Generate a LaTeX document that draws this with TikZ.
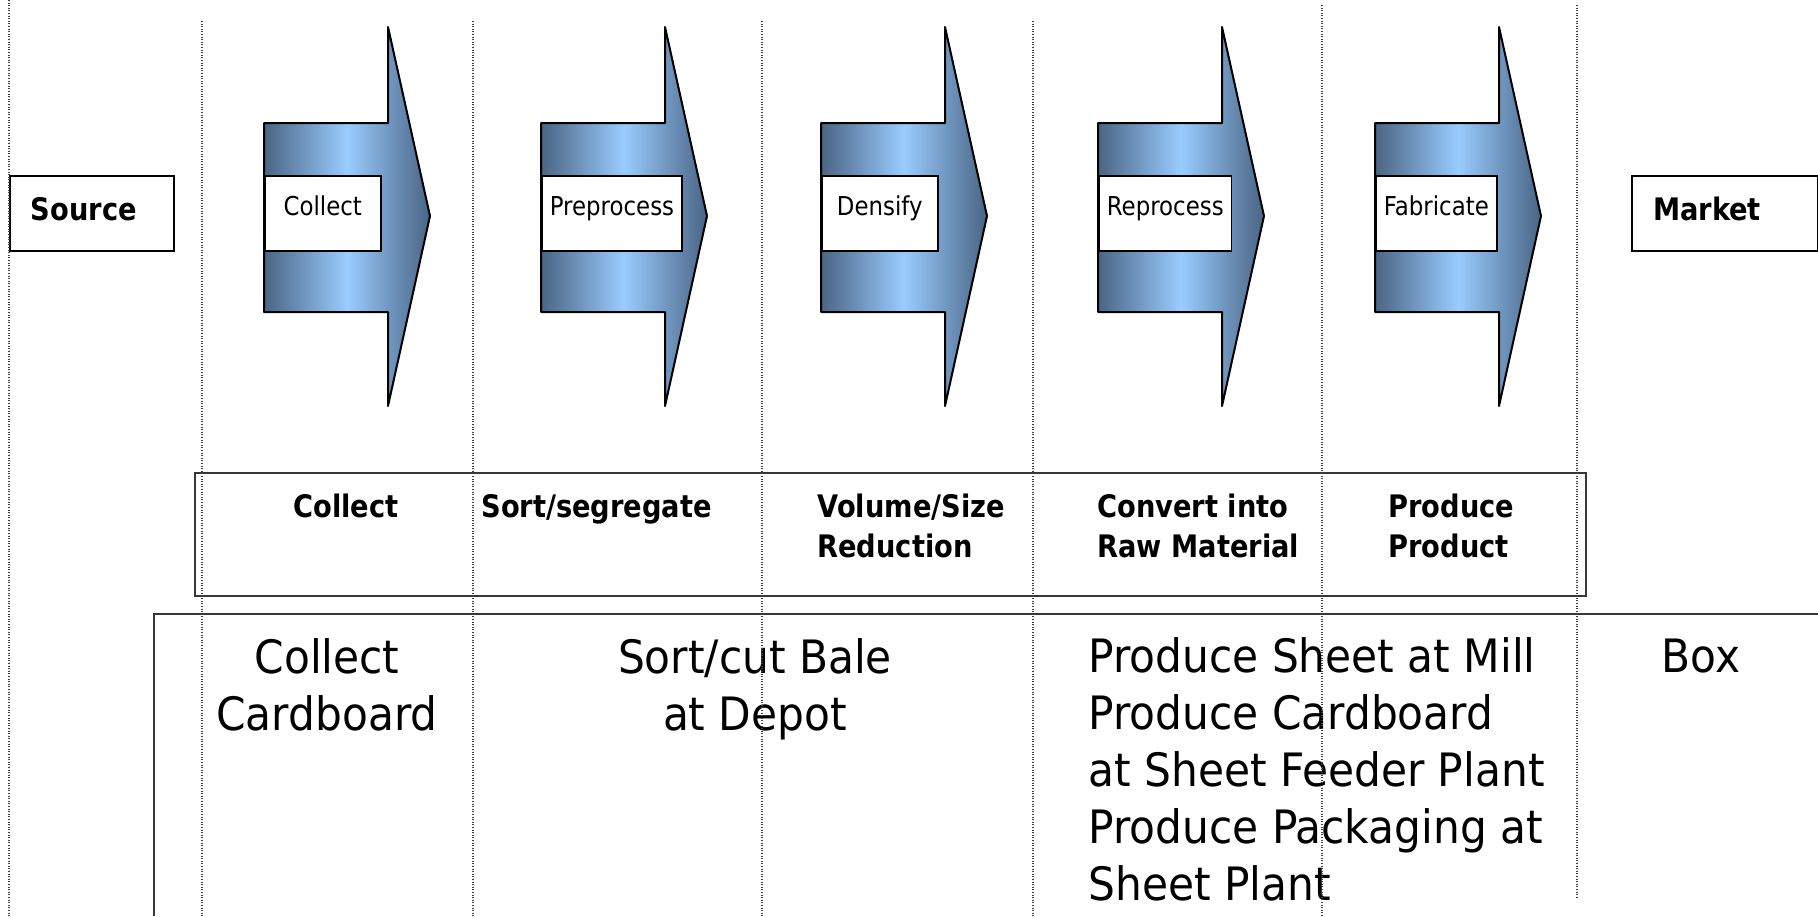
\documentclass[tikz,border=0pt]{standalone}
\usepackage{fontspec}
\setmainfont{DejaVu Sans}[FakeStretch=0.88]
\newfontfamily\widesans{DejaVu Sans}[FakeStretch=0.92]
\usepackage{tikz}
\usetikzlibrary{positioning}
\definecolor{flowdark}{RGB}{74, 100, 132}
\definecolor{flowlight}{RGB}{153, 204, 255}
\definecolor{framegray}{RGB}{55, 55, 55}
\tikzset{
  endbox/.style={draw=black, line width=1pt, fill=white, inner xsep=10.5pt, inner ysep=0pt,
    text width=#1, align=left, text height=22pt, text depth=15.5pt,
    font=\bfseries\fontsize{15.5}{20}\selectfont},
  tagbox/.style={draw=black, line width=0.8pt, fill=white, inner xsep=4pt, inner ysep=0pt,
    minimum width=58pt, text height=19.5pt, text depth=18pt,
    font=\fontsize{13}{16}\selectfont},
  stagetext/.style={inner sep=0pt, align=left, font=\bfseries\fontsize{15.5}{20}\selectfont},
  bigtext/.style={inner sep=0pt, font=\widesans\fontsize{23}{28.5}\selectfont},
  sepline/.style={black!75, line width=0.6pt, dash pattern=on 0.5pt off 0.8pt},
  frameline/.style={framegray, line width=1.1pt}
}
% block arrow with its tag box: left edge, node name, label
\newcommand{\flowarrow}[3]{%
  \draw[line width=1pt, line join=round, left color=flowdark, right color=flowdark,
      middle color=flowlight]
    (#1,123) -- (#1+124,123) -- (#1+124,27) -- (#1+166,216) -- (#1+124,406)
    -- (#1+124,312) -- (#1,312) -- cycle;
  \node[tagbox, anchor=base west] (#2) at (#1,215) {#3};
}

\begin{document}
\begin{tikzpicture}[x=0.5pt, y=-0.5pt]
  \useasboundingbox (0,0) rectangle (1818,916);
  % Ends of the chain
  \node[endbox=61pt, anchor=base west] (src) at (9,220) {Source};
  \node[endbox=72pt, anchor=base west] (mkt) at (1631,220) {Market};
  % Process arrows
  \foreach \x/\nm/\lbl in {264/collect/Collect, 541/preprocess/Preprocess,
      821/densify/Densify, 1098/reprocess/Reprocess, 1375/fabricate/Fabricate} {
    \flowarrow{\x}{\nm}{\lbl}
  }
  % Stage row (base = last line)
  \draw[frameline] (195,473) rectangle (1586,596);
  \node[stagetext, anchor=base west] (stCollect) at (293,517) {Collect};
  \node[stagetext, anchor=base west] (stSort) at (481,517) {Sort/segregate};
  \node[stagetext, anchor=base west] (stVolume) at (817,557) {Volume/Size\\Reduction};
  \node[stagetext, anchor=base west] (stConvert) at (1097,557) {Convert into\\Raw Material};
  \node[stagetext, anchor=base west] (stProduce) at (1388,557) {Produce\\Product};
  % Cardboard example row
  \draw[frameline] (154,916) -- (154,614) -- (1818,614);
  \node[bigtext, align=center, anchor=base] (exCollect) at (327,730) {Collect\\Cardboard};
  \node[bigtext, align=center, anchor=base] (exSort) at (755,730) {Sort/cut Bale\\at Depot};
  \node[bigtext, align=left, anchor=base west] (exProduce) at (1088,900)
    {Produce Sheet at Mill\\Produce Cardboard\\at Sheet Feeder Plant\\Produce Packaging at\\Sheet Plant};
  \node[bigtext, anchor=base] (exBox) at (1701,672) {Box};
  % Column separators
  \foreach \x/\y in {9/0, 202/21, 473/21, 762/21, 1033/21, 1322/5} {
    \draw[sepline] (\x,\y) -- (\x,916);
  }
  \draw[sepline] (1577,5) -- (1577,899);
\end{tikzpicture}
\end{document}
